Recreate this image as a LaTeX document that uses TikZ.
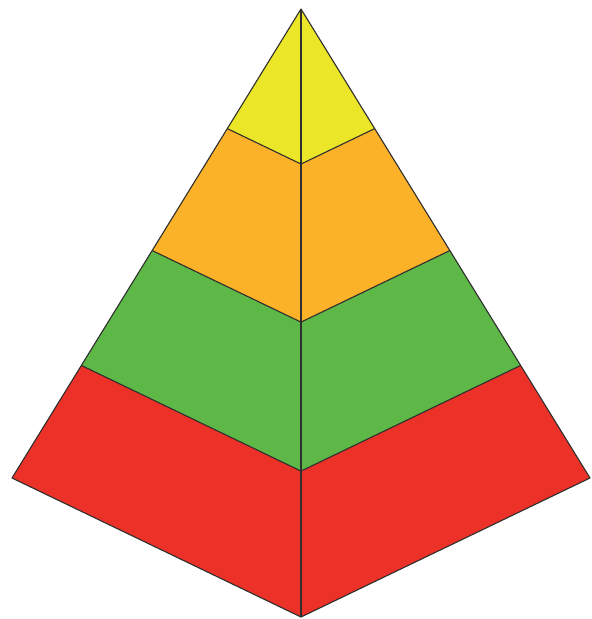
\documentclass[tikz,border=0pt]{standalone}
\usetikzlibrary{calc}
\begin{document}
\begin{tikzpicture}[x=1pt,y=-1pt,
  face/.style={draw=black!82,line width=1.1pt,line join=round},
  edge/.style={draw=black!82,line width=1.1pt}]
\definecolor{pyel}{RGB}{236,230,40}
\definecolor{porg}{RGB}{252,178,40}
\definecolor{pgrn}{RGB}{94,184,72}
\definecolor{pred}{RGB}{236,50,40}
\useasboundingbox (0,0) rectangle (592,619);
% key points
\coordinate (A) at (301,9);
\coordinate (L0) at (12,478);
\coordinate (R0) at (590,478);
\coordinate (C0) at (301,617);
% layer boundaries (scaled from apex)
\coordinate (L1) at ($(A)!0.255!(L0)$);
\coordinate (R1) at ($(A)!0.255!(R0)$);
\coordinate (C1) at ($(A)!0.255!(C0)$);
\coordinate (L2) at ($(A)!0.515!(L0)$);
\coordinate (R2) at ($(A)!0.515!(R0)$);
\coordinate (C2) at ($(A)!0.515!(C0)$);
\coordinate (L3) at ($(A)!0.76!(L0)$);
\coordinate (R3) at ($(A)!0.76!(R0)$);
\coordinate (C3) at ($(A)!0.76!(C0)$);
% fills
\path[fill=pred] (L3) -- (C3) -- (R3) -- (R0) -- (C0) -- (L0) -- cycle;
\path[fill=pgrn] (L2) -- (C2) -- (R2) -- (R3) -- (C3) -- (L3) -- cycle;
\path[fill=porg] (L1) -- (C1) -- (R1) -- (R2) -- (C2) -- (L2) -- cycle;
\path[fill=pyel] (A) -- (R1) -- (C1) -- (L1) -- cycle;
% outlines
\draw[face] (A) -- (L0) -- (C0) -- (R0) -- cycle;
\draw[edge] (A) -- (C0);
\draw[edge] (L1) -- (C1) -- (R1);
\draw[edge] (L2) -- (C2) -- (R2);
\draw[edge] (L3) -- (C3) -- (R3);
\end{tikzpicture}
\end{document}
